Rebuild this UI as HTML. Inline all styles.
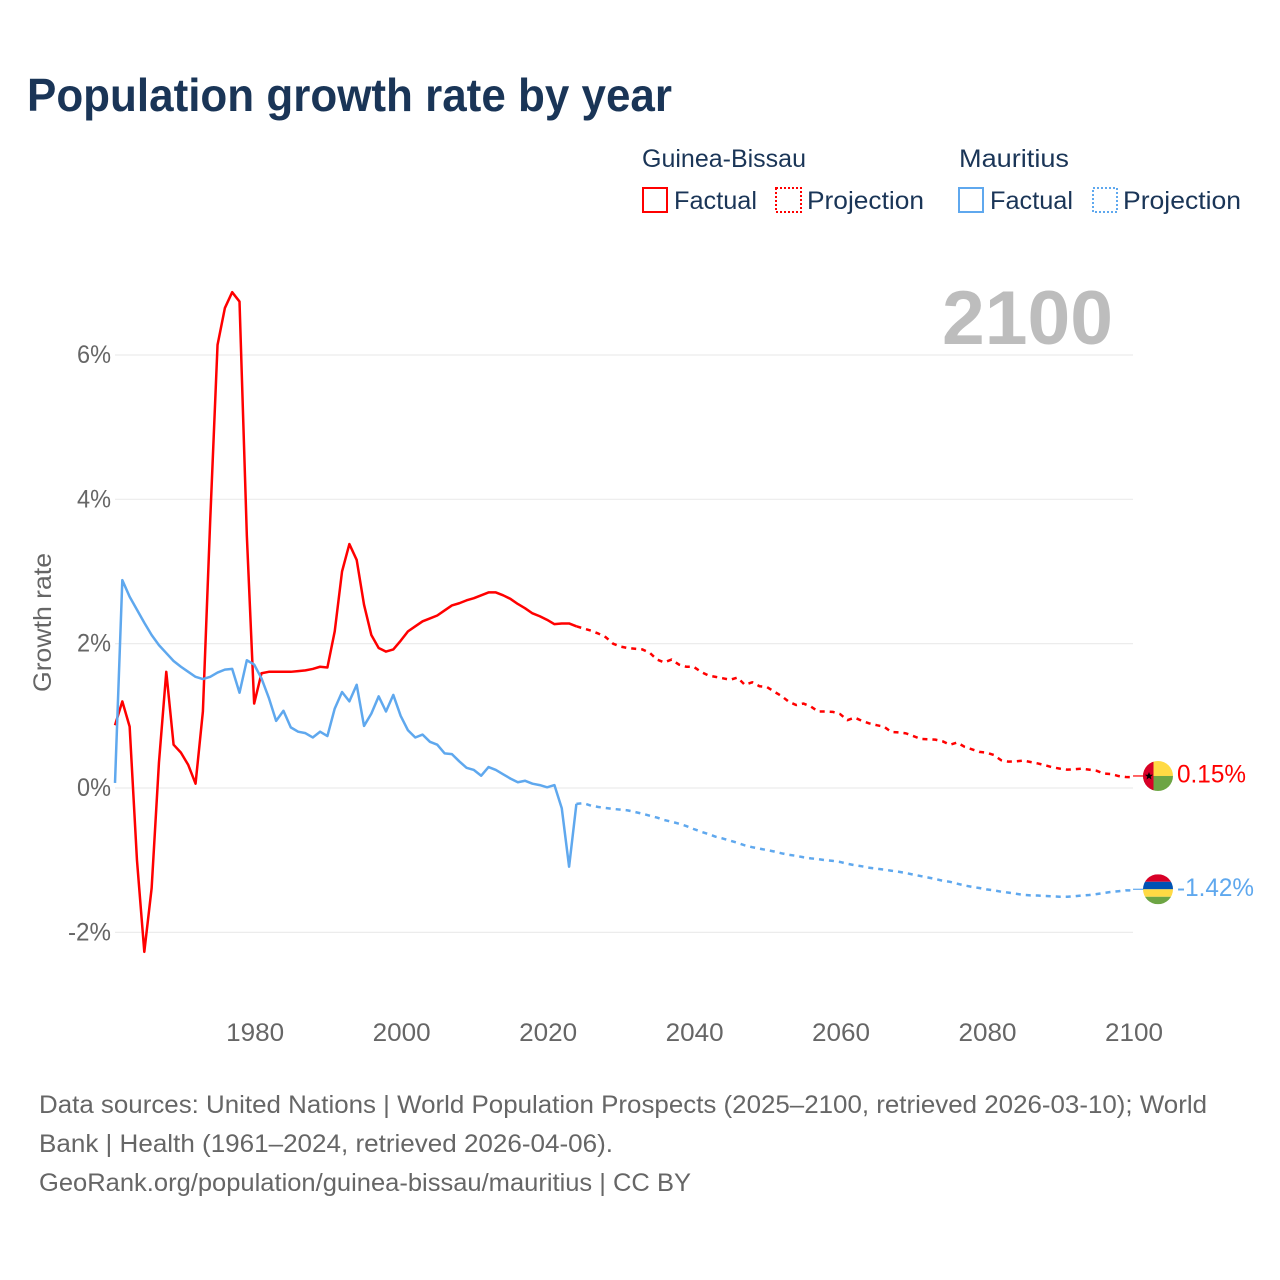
<!DOCTYPE html>
<html lang="en">
<head>
<meta charset="utf-8">
<title>Population growth rate by year</title>
<style>
html,body{margin:0;padding:0;background:#fff;}
svg{display:block;}
text{font-family:"Liberation Sans",sans-serif;}
</style>
</head>
<body>
<svg id="chart" width="1280" height="1280" viewBox="0 0 1280 1280" xmlns="http://www.w3.org/2000/svg">
  <rect width="1280" height="1280" fill="#fff"/>
  <text x="27" y="111" font-size="46" font-weight="700" fill="#1a3557" textLength="645" lengthAdjust="spacingAndGlyphs">Population growth rate by year</text>

  <g font-size="25" fill="#1a3557">
    <text x="642" y="167" textLength="164" lengthAdjust="spacingAndGlyphs">Guinea-Bissau</text>
    <text x="959" y="167" textLength="110" lengthAdjust="spacingAndGlyphs">Mauritius</text>
    <rect x="643" y="188" width="24" height="24" fill="none" stroke="#ff0000" stroke-width="2"/>
    <text x="674" y="209" textLength="83" lengthAdjust="spacingAndGlyphs">Factual</text>
    <rect x="776" y="188" width="25" height="24" fill="none" stroke="#ff0000" stroke-width="2" stroke-dasharray="2 2"/>
    <text x="807" y="209" textLength="117" lengthAdjust="spacingAndGlyphs">Projection</text>
    <rect x="959" y="188" width="24" height="24" fill="none" stroke="#5fa8ee" stroke-width="2"/>
    <text x="990" y="209" textLength="83" lengthAdjust="spacingAndGlyphs">Factual</text>
    <rect x="1093" y="188" width="24" height="24" fill="none" stroke="#5fa8ee" stroke-width="2" stroke-dasharray="2 2"/>
    <text x="1123" y="209" textLength="118" lengthAdjust="spacingAndGlyphs">Projection</text>
  </g>

  <g id="grid"></g>
  <g id="y-ticks"></g>
  <g id="x-ticks"></g>
  <text transform="translate(51,622.5) rotate(-90)" text-anchor="middle" font-size="25" fill="#666" textLength="139" lengthAdjust="spacingAndGlyphs">Growth rate</text>
  <text x="942" y="344" font-size="76" font-weight="700" fill="#bdbdbd" textLength="171" lengthAdjust="spacingAndGlyphs">2100</text>

  <g id="series"></g>

  <g id="flag-gb">
    <clipPath id="clip-gb"><circle cx="0" cy="0" r="15"/></clipPath>
    <g clip-path="url(#clip-gb)">
      <rect x="-15" y="-15" width="30" height="15" fill="#ffda44"/>
      <rect x="-15" y="0" width="30" height="15" fill="#6da544"/>
      <rect x="-15" y="-15" width="10.5" height="30" fill="#d80027"/>
      <polygon points="-9,-4 -7.9,-1.2 -5,-1.2 -7.3,0.6 -6.5,3.5 -9,1.8 -11.5,3.5 -10.7,0.6 -13,-1.2 -10.1,-1.2" fill="#000"/>
    </g>
  </g>
  <g id="flag-mu">
    <clipPath id="clip-mu"><circle cx="0" cy="0" r="15"/></clipPath>
    <g clip-path="url(#clip-mu)">
      <rect x="-15" y="-15" width="30" height="7.5" fill="#d80027"/>
      <rect x="-15" y="-7.5" width="30" height="7.5" fill="#0052b4"/>
      <rect x="-15" y="0" width="30" height="7.5" fill="#ffda44"/>
      <rect x="-15" y="7.5" width="30" height="7.5" fill="#6da544"/>
    </g>
  </g>
  <text id="end-label-gb" x="1177" font-size="25" fill="#ff0000" textLength="69" lengthAdjust="spacingAndGlyphs"></text>
  <text id="end-label-mu" x="1177" font-size="25" fill="#5fa8ee" textLength="77" lengthAdjust="spacingAndGlyphs"></text>

  <g font-size="25" fill="#666">
    <text x="39" y="1113" textLength="1168" lengthAdjust="spacingAndGlyphs">Data sources: United Nations | World Population Prospects (2025–2100, retrieved 2026-03-10); World</text>
    <text x="39" y="1152" textLength="574" lengthAdjust="spacingAndGlyphs">Bank | Health (1961–2024, retrieved 2026-04-06).</text>
    <text x="39" y="1191" textLength="652" lengthAdjust="spacingAndGlyphs">GeoRank.org/population/guinea-bissau/mauritius | CC BY</text>
  </g>
</svg>
<script>
var factualStartYear = 1961;
var projectionStartYear = 2024;
var xTickYears = [1980, 2000, 2020, 2040, 2060, 2080, 2100];
var yTickValues = [6, 4, 2, 0, -2];
var yTickLabels = ["6%", "4%", "2%", "0%", "-2%"];

var guineaBissauFactual = [
  0.87, 1.20, 0.85, -1.0, -2.27, -1.39, 0.35, 1.61, 0.60, 0.49,
  0.32, 0.06, 1.06, 3.71, 6.14, 6.65, 6.87, 6.74, 3.50, 1.17,
  1.59, 1.61, 1.61, 1.61, 1.61, 1.62, 1.63, 1.65, 1.68, 1.67,
  2.17, 3.00, 3.38, 3.16, 2.54, 2.12, 1.94, 1.89, 1.92, 2.04,
  2.17, 2.24, 2.31, 2.35, 2.39, 2.46, 2.53, 2.56, 2.60, 2.63,
  2.67, 2.71, 2.71, 2.67, 2.62, 2.55, 2.49, 2.42, 2.38, 2.33,
  2.27, 2.28, 2.28, 2.24
];
var guineaBissauProjection = [
  2.24, 2.21, 2.18, 2.14, 2.09, 2.00, 1.96, 1.94, 1.93, 1.92,
  1.875, 1.78, 1.74, 1.78, 1.71, 1.68, 1.68, 1.61, 1.56, 1.54,
  1.52, 1.50, 1.53, 1.43, 1.465, 1.41, 1.40, 1.335, 1.275, 1.195,
  1.15, 1.17, 1.13, 1.06, 1.06, 1.055, 1.025, 0.94, 0.975, 0.93,
  0.895, 0.87, 0.85, 0.776, 0.77, 0.757, 0.72, 0.68, 0.675, 0.67,
  0.647, 0.60, 0.63, 0.57, 0.536, 0.50, 0.49, 0.457, 0.384, 0.365,
  0.37, 0.38, 0.36, 0.34, 0.315, 0.287, 0.268, 0.254, 0.26, 0.268,
  0.254, 0.24, 0.20, 0.194, 0.166, 0.152, 0.15
];
var mauritiusFactual = [
  0.07, 2.88, 2.65, 2.47, 2.29, 2.12, 1.98, 1.87, 1.76, 1.68,
  1.61, 1.54, 1.51, 1.54, 1.60, 1.64, 1.65, 1.32, 1.77, 1.71,
  1.52, 1.25, 0.93, 1.07, 0.84, 0.78, 0.76, 0.70, 0.78, 0.72,
  1.10, 1.33, 1.20, 1.43, 0.86, 1.03, 1.27, 1.06, 1.29, 1.00,
  0.80, 0.70, 0.74, 0.64, 0.60, 0.48, 0.47, 0.37, 0.28, 0.25,
  0.17, 0.29, 0.25, 0.19, 0.13, 0.08, 0.10, 0.06, 0.04, 0.01,
  0.04, -0.28, -1.09, -0.22
];
var mauritiusProjection = [
  -0.22, -0.21, -0.245, -0.263, -0.277, -0.29, -0.30, -0.31, -0.333, -0.356,
  -0.384, -0.41, -0.444, -0.467, -0.495, -0.527, -0.568, -0.605, -0.637, -0.675,
  -0.70, -0.73, -0.76, -0.795, -0.82, -0.84, -0.86, -0.88, -0.905, -0.925,
  -0.94, -0.96, -0.975, -0.985, -1.0, -1.01, -1.025, -1.05, -1.07, -1.085,
  -1.105, -1.118, -1.13, -1.146, -1.16, -1.178, -1.20, -1.22, -1.24, -1.26,
  -1.285, -1.30, -1.326, -1.35, -1.37, -1.386, -1.405, -1.418, -1.437, -1.45,
  -1.465, -1.48, -1.487, -1.49, -1.497, -1.50, -1.506, -1.506, -1.50, -1.49,
  -1.483, -1.47, -1.455, -1.44, -1.43, -1.418, -1.42
];

var SVGNS = "http://www.w3.org/2000/svg";
function xScale(year) { return 115 + (year - 1961) * 7.324; }
function yScale(value) { return 788 - value * 72.17; }
function make(tag, parentId) {
  var el = document.createElementNS(SVGNS, tag);
  document.getElementById(parentId).appendChild(el);
  return el;
}
function linePoints(values, startYear) {
  return values.map(function (v, i) {
    return xScale(startYear + i).toFixed(2) + "," + yScale(v).toFixed(2);
  }).join(" ");
}

yTickValues.forEach(function (v, i) {
  var line = make("line", "grid");
  
  
  line.setAttribute("x1", 115);
  line.setAttribute("x2", 1133);
  line.setAttribute("y1", yScale(v));
  line.setAttribute("y2", yScale(v));
  line.setAttribute("stroke", "#ececec");
  line.setAttribute("stroke-width", "1.2");

  var label = make("text", "y-ticks");
  
  
  label.setAttribute("x", 111);
  label.setAttribute("y", yScale(v) + 8);
  label.setAttribute("text-anchor", "end");
  label.setAttribute("font-size", "25");
  label.setAttribute("fill", "#666");
  label.setAttribute("textLength", yTickLabels[i].length > 2 ? 43 : 34);
  label.setAttribute("lengthAdjust", "spacingAndGlyphs");
  label.textContent = yTickLabels[i];
});

xTickYears.forEach(function (year) {
  var label = make("text", "x-ticks");
  
  
  label.setAttribute("x", xScale(year) + 1);
  label.setAttribute("y", 1041);
  label.setAttribute("text-anchor", "middle");
  label.setAttribute("font-size", "25");
  label.setAttribute("fill", "#666");
  label.setAttribute("textLength", 58);
  label.setAttribute("lengthAdjust", "spacingAndGlyphs");
  label.textContent = String(year);
});

function drawLine(values, startYear, color, dashed, name) {
  var pl = make("polyline", "series");
  
  
  pl.setAttribute("points", linePoints(values, startYear));
  pl.setAttribute("fill", "none");
  pl.setAttribute("stroke", color);
  pl.setAttribute("stroke-width", "2.5");
  pl.setAttribute("stroke-linejoin", "round");
  if (dashed) { pl.setAttribute("stroke-dasharray", "5 5"); }
}
drawLine(guineaBissauProjection, projectionStartYear, "#ff0000", true, "guinea-bissau-projection-line");
drawLine(mauritiusProjection, projectionStartYear, "#5fa8ee", true, "mauritius-projection-line");
drawLine(guineaBissauFactual, factualStartYear, "#ff0000", false, "guinea-bissau-factual-line");
drawLine(mauritiusFactual, factualStartYear, "#5fa8ee", false, "mauritius-factual-line");

function drawEnd(values, color, flagId, labelId, connectorName) {
  var last = values[values.length - 1];
  var y = yScale(last) - 1.2;
  var c = make("line", "series");
  
  
  c.setAttribute("x1", xScale(2100));
  c.setAttribute("x2", 1144);
  c.setAttribute("y1", y);
  c.setAttribute("y2", y);
  c.setAttribute("stroke", color);
  c.setAttribute("stroke-width", "1.2");
  document.getElementById(flagId).setAttribute("transform", "translate(1158," + y + ")");
  var t = document.getElementById(labelId);
  t.setAttribute("y", y + 6.5);
  t.textContent = last.toFixed(2) + "%";
}
drawEnd(guineaBissauProjection, "#ff0000", "flag-gb", "end-label-gb", "guinea-bissau-end-connector");
drawEnd(mauritiusProjection, "#5fa8ee", "flag-mu", "end-label-mu", "mauritius-end-connector");
</script>
</body>
</html>
